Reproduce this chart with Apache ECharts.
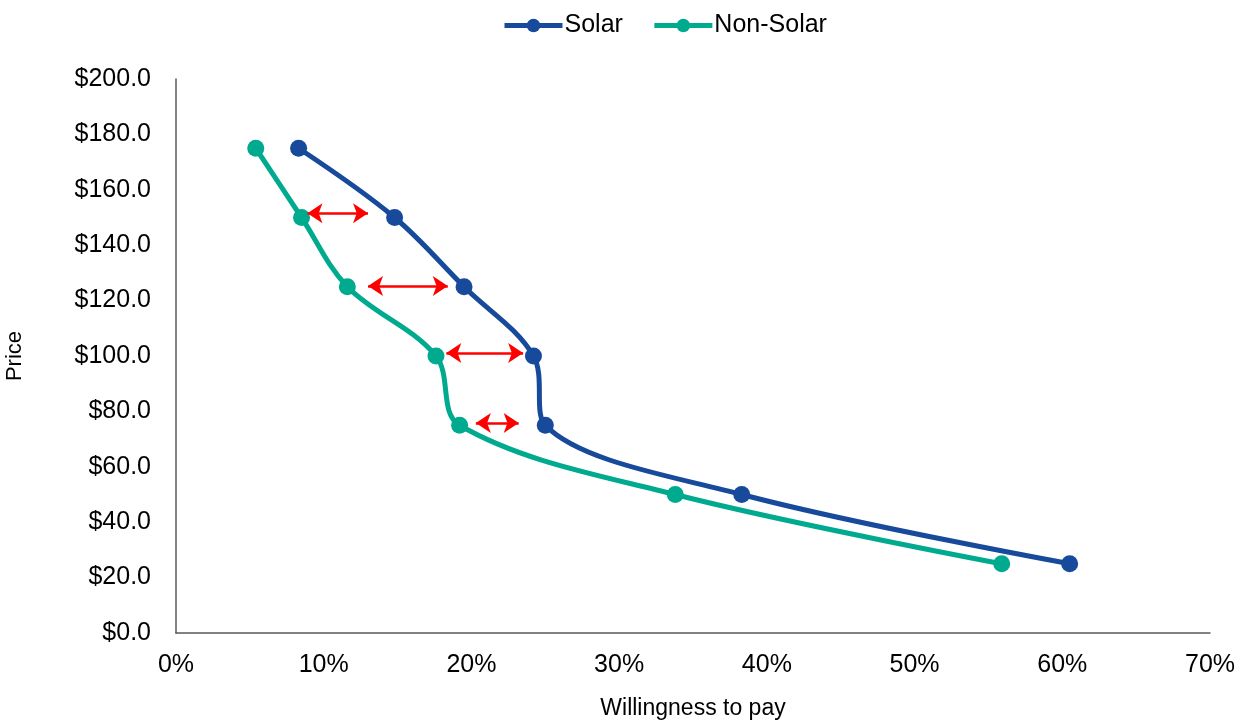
<!DOCTYPE html>
<html>
<head>
<meta charset="utf-8">
<script src="https://cdn.jsdelivr.net/npm/echarts@6/dist/echarts.min.js"></script>
<style>
  html, body { margin: 0; padding: 0; background: #fff; }
  #chart { width: 1239px; height: 722px; }
</style>
</head>
<body>
<div id="chart"></div>
<script>
// willingness to pay (%) at each price level
var prices = [175, 150, 125, 100, 75, 50, 25];
var solarPct = [8.3, 14.8, 19.5, 24.2, 25.0, 38.3, 60.5];
var nonSolarPct = [5.4, 8.5, 11.6, 17.6, 19.2, 33.8, 55.9];

// red double arrows showing the gap: [from %, to %, price]
var gapArrows = [
  [8.9, 13.0, 151.5],
  [13.0, 18.4, 125.3],
  [18.3, 23.5, 101.1],
  [20.3, 23.2, 75.8]
];

var solarColor = "#174A9B";
var nonSolarColor = "#00AA8E";

function pairs(xs) {
  return xs.map(function (x, i) { return [x, prices[i]]; });
}

var chart = echarts.init(document.getElementById("chart"));
chart.setOption({
  animation: false,
  textStyle: { fontFamily: "Liberation Sans, Arial, sans-serif" },
  legend: {
    top: 8,
    left: 497,
    itemWidth: 58,
    itemHeight: 17,
    itemGap: 29,
    lineStyle: { width: 5 },
    textStyle: { fontSize: 25, color: "#000", padding: [0, 0, 0, -3] },
    data: ["Solar", "Non-Solar"]
  },
  grid: { left: 176, right: 29, top: 79, bottom: 89, outerBoundsMode: "none" },
  xAxis: {
    type: "value",
    min: 0,
    max: 70,
    interval: 10,
    name: "Willingness to pay",
    nameLocation: "middle",
    nameGap: 64,
    nameTextStyle: { fontSize: 23, color: "#000" },
    axisLine: { show: true, lineStyle: { color: "#595959", width: 1.5 } },
    axisTick: { show: false },
    splitLine: { show: false },
    axisLabel: { fontSize: 25, color: "#000", margin: 20, formatter: "{value}%" }
  },
  yAxis: {
    type: "value",
    min: 0,
    max: 200,
    interval: 20,
    name: "Price",
    nameLocation: "middle",
    nameGap: 150,
    nameRotate: 90,
    nameTextStyle: { fontSize: 22, color: "#000" },
    axisLine: { show: true, lineStyle: { color: "#595959", width: 1.5 } },
    axisTick: { show: false },
    splitLine: { show: false },
    axisLabel: {
      fontSize: 25,
      color: "#000",
      margin: 25,
      formatter: function (v) { return "$" + v.toFixed(1); }
    }
  },
  series: [
    {
      name: "Solar",
      type: "line",
      smooth: 0.35,
      data: pairs(solarPct),
      symbol: "circle",
      symbolSize: 17,
      itemStyle: { color: solarColor },
      lineStyle: { color: solarColor, width: 5 }
    },
    {
      name: "Non-Solar",
      type: "line",
      smooth: 0.35,
      data: pairs(nonSolarPct),
      symbol: "circle",
      symbolSize: 17,
      itemStyle: { color: nonSolarColor },
      lineStyle: { color: nonSolarColor, width: 5 }
    },
    {
      name: "gap",
      type: "line",
      data: [],
      silent: true,
      markLine: {
        silent: true,
        symbol: ["arrow", "arrow"],
        symbolSize: [15, 15],
        label: { show: false },
        lineStyle: { color: "#FF0000", width: 2.5, type: "solid" },
        data: gapArrows.map(function (a) {
          return [{ coord: [a[0], a[2]] }, { coord: [a[1], a[2]] }];
        })
      }
    }
  ]
});
</script>
</body>
</html>
